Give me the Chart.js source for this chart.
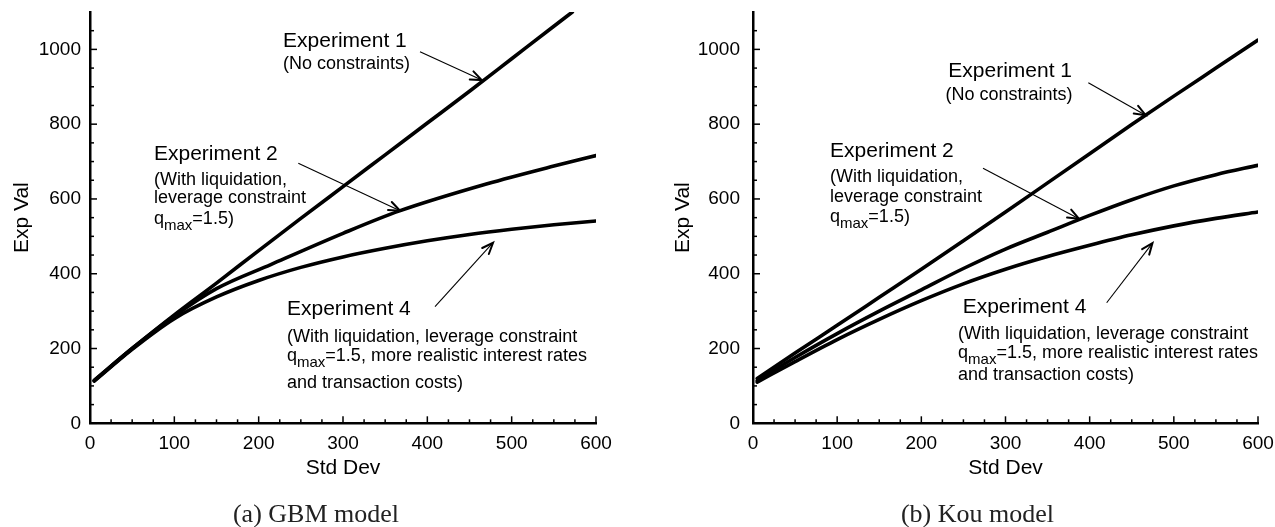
<!DOCTYPE html>
<html><head><meta charset="utf-8">
<script src="https://cdn.jsdelivr.net/npm/chart.js@4.4.1/dist/chart.umd.min.js"></script>
<style>
html,body{margin:0;padding:0;background:#fff;}
#wrap{position:relative;width:1275px;height:527px;overflow:hidden;background:#fff;}
.box{position:absolute;top:0;height:527px;}
canvas{display:block;}
</style></head><body>
<div id="wrap">
<div class="box" style="left:0;width:640px"><canvas id="c1" width="640" height="527" style="width:640px;height:527px"></canvas></div>
<div class="box" style="left:640px;width:635px"><canvas id="c2" width="635" height="527" style="width:635px;height:527px"></canvas></div>
</div>
<script>
// ---------- DATA ----------
const xTickLabels = [0, 100, 200, 300, 400, 500, 600];
const yTickLabels = [0, 200, 400, 600, 800, 1000];

// (a) GBM model
const gbmExp1X = [5, 50, 100, 150, 200, 250, 300, 350, 400, 450, 500, 550, 572];
const gbmExp1Y = [115, 200, 290, 375, 462, 548, 633, 718, 803, 888, 975, 1062, 1100];
const gbmExp2X = [5, 50, 100, 150, 215, 300, 367, 470, 550, 600];
const gbmExp2Y = [114, 200, 287, 360, 425, 508, 568, 640, 688, 716];
const gbmExp4X = [5, 50, 100, 150, 200, 250, 300, 350, 400, 450, 500, 550, 600];
const gbmExp4Y = [113, 198, 280, 338, 382, 417, 445, 468, 488, 505, 519, 531, 541];

// (b) Kou model
const kouExp1X = [5, 50, 100, 150, 200, 250, 300, 350, 400, 450, 500, 550, 600];
const kouExp1Y = [120, 188, 262, 337, 412, 488, 565, 643, 721, 799, 875, 950, 1025];
const kouExp2X = [5, 50, 100, 150, 200, 250, 300, 350, 400, 450, 500, 550, 600];
const kouExp2Y = [114, 176, 240, 300, 357, 414, 466, 511, 556, 598, 635, 665, 690];
const kouExp4X = [5, 50, 100, 150, 200, 250, 300, 350, 400, 450, 500, 550, 600];
const kouExp4Y = [110, 165, 224, 278, 328, 373, 412, 446, 476, 504, 528, 548, 565];

const seriesNames = ['Experiment 1', 'Experiment 2', 'Experiment 4'];
const captions = ['(a) GBM model', '(b) Kou model'];

// annotation texts (positions in data units)
const exp1Lines = [[{t:'Experiment 1'}], [{t:'(No constraints)'}]];
const exp2Lines = [[{t:'Experiment 2'}], [{t:'(With liquidation,'}], [{t:'leverage constraint'}], [{t:'q'},{t:'max',sub:true},{t:'=1.5)'}]];
const exp4Lines = [[{t:'Experiment 4'}], [{t:'(With liquidation, leverage constraint'}], [{t:'q'},{t:'max',sub:true},{t:'=1.5, more realistic interest rates'}], [{t:'and transaction costs)'}]];
const lineSizes2 = [21, 18, 18, 18];

const gbmNotes = [
  {lines: exp1Lines, sizes:[21,18], x:[228.9,228.9], y:[1006, 947]},
  {lines: exp2Lines, sizes: lineSizes2, x:[75.9,75.9,75.9,75.9], y:[704, 637, 588, 533]},
  {lines: exp4Lines, sizes: lineSizes2, x:[233.6,233.6,233.6,233.6], y:[289.6, 218.2, 167.9, 93.6]}
];
const gbmArrows = [
  [391.3, 993.6, 464.5, 917.9],
  [247.0, 695.2, 367.6, 568.5],
  [409.1, 311.8, 477.9, 482.9]
];
const kouNotes = [
  {lines: exp1Lines, sizes:[21,18], x:[232.0,228.7], y:[925.2, 864.5]},
  {lines: exp2Lines, sizes: lineSizes2, x:[91.5,91.5,91.5,91.5], y:[712.9, 646.0, 592.6, 539.1]},
  {lines: exp4Lines, sizes: lineSizes2, x:[249.1,243.6,243.6,243.6], y:[294.1, 226.2, 173.8, 115]}
];
const kouArrows = [
  [398.4, 910.8, 466.5, 824.0],
  [273.3, 681.9, 387.3, 547.0],
  [420.2, 322.5, 474.6, 482.0]
];

// ---------- RENDER ----------
const FONT = '"Liberation Sans", Arial, Helvetica, sans-serif';
Chart.defaults.font.family = FONT;
Chart.defaults.color = '#000';

function pts(xs, ys) { return xs.map((x, i) => ({x: x, y: ys[i]})); }

const annotPlugin = {
  id: 'annot',
  afterDraw(chart, args, opts) {
    const {ctx, chartArea: a, scales: {x, y}} = chart;
    ctx.save();
    // inward ticks
    ctx.strokeStyle = '#000';
    ctx.lineWidth = 1.5;
    for (let v = x.min; v <= x.max + 1e-6; v += 25) {
      const px = x.getPixelForValue(v);
      const len = (Math.round(v) % 100 === 0) ? 7 : 4;
      ctx.beginPath(); ctx.moveTo(px, a.bottom); ctx.lineTo(px, a.bottom - len); ctx.stroke();
    }
    for (let v = y.min; v <= y.max - 1; v += 50) {
      const py = y.getPixelForValue(v);
      const len = (Math.round(v) % 200 === 0) ? 7 : 4;
      ctx.beginPath(); ctx.moveTo(a.left, py); ctx.lineTo(a.left + len, py); ctx.stroke();
    }
    // texts
    ctx.fillStyle = '#000';
    ctx.textBaseline = 'alphabetic';
    ctx.textAlign = 'left';
    for (const n of opts.notes) {
      n.lines.forEach((segs, i) => {
        let cx = x.getPixelForValue(n.x[i]);
        const by = y.getPixelForValue(n.y[i]);
        for (const s of segs) {
          const fs = s.sub ? 15 : n.sizes[i];
          ctx.font = fs + 'px ' + FONT;
          ctx.fillText(s.t, cx, s.sub ? by + 6 : by);
          cx += ctx.measureText(s.t).width;
        }
      });
    }
    // arrows
    for (const ar of opts.arrows) {
      const x1 = x.getPixelForValue(ar[0]), y1 = y.getPixelForValue(ar[1]);
      const x2 = x.getPixelForValue(ar[2]), y2 = y.getPixelForValue(ar[3]);
      ctx.lineWidth = 1.1;
      ctx.beginPath(); ctx.moveTo(x1, y1); ctx.lineTo(x2, y2); ctx.stroke();
      const ang = Math.atan2(y2 - y1, x2 - x1);
      const L = 12, w = 0.38;
      ctx.lineWidth = 2;
      ctx.lineCap = 'round';
      ctx.beginPath();
      ctx.moveTo(x2 - L * Math.cos(ang - w), y2 - L * Math.sin(ang - w));
      ctx.lineTo(x2, y2);
      ctx.lineTo(x2 - L * Math.cos(ang + w), y2 - L * Math.sin(ang + w));
      ctx.stroke();
      ctx.lineCap = 'butt';
    }
    // caption
    ctx.font = '26px "Liberation Serif", "Times New Roman", serif';
    ctx.fillStyle = '#222';
    ctx.textAlign = 'center';
    ctx.fillText(opts.caption, opts.capX, 521.5);
    ctx.restore();
  }
};

function makeChart(id, sets, conf) {
  const colors = '#000';
  return new Chart(document.getElementById(id), {
    type: 'line',
    data: {
      datasets: sets.map((s, i) => ({
        label: seriesNames[i],
        data: s,
        borderColor: colors,
        borderWidth: 3.6,
        pointRadius: 0,
        fill: false,
        cubicInterpolationMode: 'monotone',
        borderCapStyle: 'round',
        borderJoinStyle: 'round'
      }))
    },
    options: {
      responsive: false,
      animation: false,
      devicePixelRatio: 1,
      layout: {padding: conf.padding},
      plugins: {
        legend: {display: false},
        tooltip: {enabled: false},
        annot: {notes: conf.notes, arrows: conf.arrows, caption: conf.caption, capX: conf.capX}
      },
      scales: {
        x: {
          type: 'linear', min: 0, max: 600,
          ticks: {stepSize: 100, font: {size: 19}, color: '#000', padding: 9, maxRotation: 0,
                  callback: v => xTickLabels.includes(v) ? String(v) : ''},
          grid: {drawOnChartArea: false, drawTicks: false},
          border: {display: true, color: '#000', width: 2.5},
          title: {display: true, text: 'Std Dev', font: {size: 21}, color: '#000', padding: 0},
          afterFit: s => { s.height = 57.3; s.paddingLeft = 0; s.paddingRight = 0; }
        },
        y: {
          type: 'linear', min: 0, max: 1100,
          ticks: {stepSize: 200, font: {size: 19}, color: '#000', padding: conf.yPad,
                  callback: v => String(v)},
          afterBuildTicks: s => { s.ticks = s.ticks.filter(t => yTickLabels.includes(t.value)); },
          grid: {drawOnChartArea: false, drawTicks: false},
          border: {display: true, color: '#000', width: 2.5},
          title: {display: true, text: 'Exp Val', font: {size: 21}, color: '#000', padding: 0},
          afterFit: s => { s.width = conf.yWidth; s.paddingTop = 0; s.paddingBottom = 0; }
        }
      }
    },
    plugins: [annotPlugin]
  });
}

makeChart('c1', [pts(gbmExp1X, gbmExp1Y), pts(gbmExp2X, gbmExp2Y), pts(gbmExp4X, gbmExp4Y)], {
  padding: {left: 9.4, right: 44, top: 12, bottom: 46.4},
  yWidth: 80.6, yPad: 9,
  notes: gbmNotes, arrows: gbmArrows, caption: captions[0], capX: 316
});
makeChart('c2', [pts(kouExp1X, kouExp1Y), pts(kouExp2X, kouExp2Y), pts(kouExp4X, kouExp4Y)], {
  padding: {left: 30.4, right: 17, top: 12, bottom: 46.4},
  yWidth: 82.6, yPad: 13,
  notes: kouNotes, arrows: kouArrows, caption: captions[1], capX: 337.5
});
</script>
</body></html>
